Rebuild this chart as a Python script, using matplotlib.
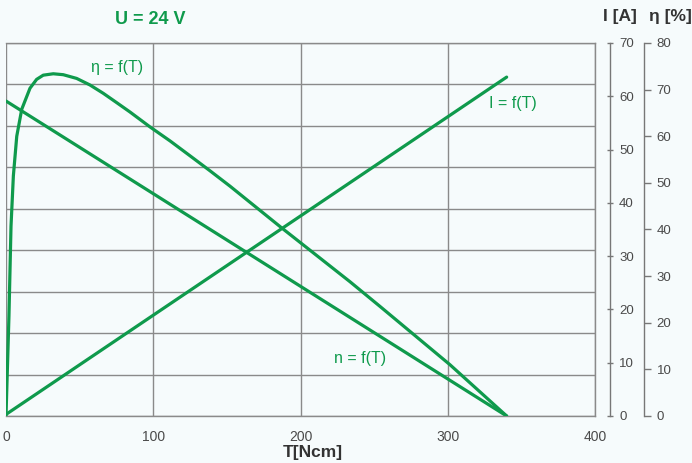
import matplotlib
matplotlib.use("Agg")
import matplotlib.pyplot as plt

# Motor characteristic at U = 24 V
torque_line = [0, 340]
current_a = [0.3, 63.6]
speed_grid = [7.6, 0.0]  # speed in grid divisions (no scale printed)

eta_torque = [0, 2.0, 3.4, 5.0, 7.3, 10.7, 16.3, 20.8, 25.3, 32.1, 38.9, 48.0,
              57.0, 66.1, 75.2, 84.2, 97.8, 111.4, 125.0, 138.5, 152.1, 187.4,
              233.6, 254.0, 301.5, 340]
eta_pct = [0, 21.4, 40.7, 51.5, 60.0, 65.8, 70.3, 72.2, 73.1, 73.4, 73.2, 72.4,
           71.0, 69.2, 67.2, 65.2, 62.0, 59.0, 55.8, 52.6, 49.3, 40.3,
           28.8, 23.5, 11.0, 0]

x_ticks = [0, 100, 200, 300, 400]
i_ticks = [0, 10, 20, 30, 40, 50, 60, 70]
eta_ticks = [0, 10, 20, 30, 40, 50, 60, 70, 80]

GREEN = "#0f9a4c"
GRID = "#8a8a8a"
TEXT = "#4a4a4a"
BG = "#f6fbfc"
NARROW = ["Liberation Sans Narrow", "Liberation Sans", "DejaVu Sans"]

W, H = 692, 463
fig = plt.figure(figsize=(W / 100, H / 100), dpi=100, facecolor=BG)

left, right, bottom, top = 6, 595, 416, 43
ax = fig.add_axes([left / W, 1 - bottom / H, (right - left) / W, (bottom - top) / H])
ax.set_facecolor(BG)
ax.set_xlim(0, 400)
ax.set_ylim(0, 9)
ax.set_xticks(x_ticks)
ax.set_yticks(range(10))
ax.set_yticklabels([])
ax.grid(True, color=GRID, linewidth=1.0)
ax.tick_params(length=0, labelsize=10, labelcolor=TEXT, pad=10)
for lbl in ax.get_xticklabels():
    lbl.set_family(["Liberation Sans", "DejaVu Sans"])
ax.spines["left"].set_visible(False)
for s in ("top", "bottom", "right"):
    ax.spines[s].set_color(GRID)
    ax.spines[s].set_linewidth(1.0)

# current axis
ax_i = ax.twinx()
ax_i.set_ylim(0, 70)
ax_i.set_yticks(i_ticks)
ax_i.spines["right"].set_position(("axes", (610 - left) / (right - left)))
# efficiency axis
ax_e = ax.twinx()
ax_e.set_ylim(0, 80)
ax_e.set_yticks(eta_ticks)
ax_e.spines["right"].set_position(("axes", (644 - left) / (right - left)))

for a, direction in ((ax_i, "inout"), (ax_e, "out")):
    for s in ("left", "top", "bottom"):
        a.spines[s].set_visible(False)
    a.spines["right"].set_color("#777777")
    a.spines["right"].set_linewidth(1.0)
    a.tick_params(axis="y", direction=direction, length=5, width=1, color="#777777",
                  labelsize=9.5, labelcolor=TEXT, pad=4)
    for lbl in a.get_yticklabels():
        lbl.set_family(["Liberation Sans", "DejaVu Sans"])

# curves
ax.plot(torque_line, speed_grid, color=GREEN, linewidth=2.3, solid_capstyle="round")
ax_i.plot(torque_line, current_a, color=GREEN, linewidth=2.3, solid_capstyle="round")
ax_e.plot(eta_torque, eta_pct, color=GREEN, linewidth=2.3, solid_joinstyle="round",
          solid_capstyle="round")

# curve labels
ax.text(75.4, 8.42, "η = f(T)", color=GREEN, fontsize=11.5, ha="center", va="center",
        family=NARROW)
ax.text(344, 7.55, "I = f(T)", color=GREEN, fontsize=11.5, ha="center", va="center",
        family=NARROW)
ax.text(240.4, 1.38, "n = f(T)", color=GREEN, fontsize=11.5, ha="center", va="center",
        family=NARROW)

# titles
fig.text(150 / W, 1 - 20 / H, "U = 24 V", color=GREEN, fontsize=13, fontweight="bold",
         ha="center", va="center", family=NARROW)
fig.text(620 / W, 1 - 17 / H, "I [A]", color="#333333", fontsize=12.5, fontweight="bold",
         ha="center", va="center", family=NARROW)
fig.text(670 / W, 1 - 17 / H, "η [%]", color="#333333", fontsize=12.5, fontweight="bold",
         ha="center", va="center", family=NARROW)
fig.text(313 / W, 1 - 452 / H, "T[Ncm]", color="#333333", fontsize=12.5, fontweight="bold",
         ha="center", va="center", family=NARROW)

fig.savefig("out.png", dpi=100, facecolor=BG)
